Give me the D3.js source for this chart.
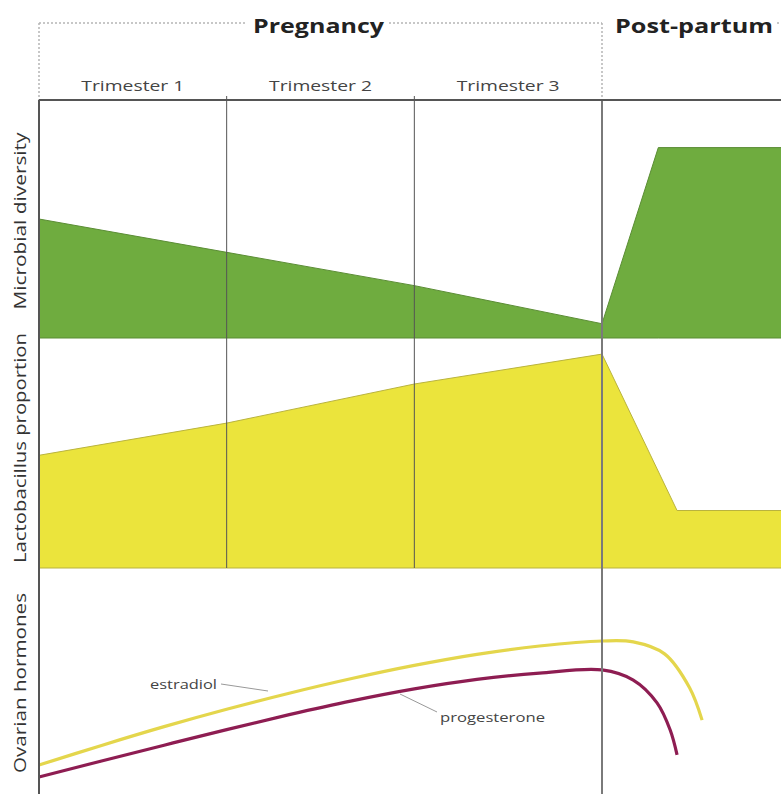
<!DOCTYPE html>
<html>
<head>
<meta charset="utf-8">
<script src="https://cdn.jsdelivr.net/npm/d3@7"></script>
<style>
    body { margin: 0; background: #fff; }
    svg { display: block; font-family: "Open Sans", "DejaVu Sans", sans-serif; }
</style>
</head>
<body>
<div id="chart"></div>
<script>
// months since conception; post-partum continues past month 9
const periods = [{name: "Pregnancy", from: 0, to: 9}, {name: "Post-partum", from: 9, to: 12}];
const trimesters = ["Trimester 1", "Trimester 2", "Trimester 3"];
const trimesterBounds = [0, 3, 6, 9];

const diversityMonths = [0, 3, 6, 9, 9.9, 12];
const diversityValues = [0.50, 0.36, 0.22, 0.06, 0.80, 0.80];

const lactoMonths = [0, 3, 6, 9, 10.2, 12];
const lactoValues = [0.49, 0.63, 0.80, 0.93, 0.25, 0.25];

const estradiolMonths = [0, 1, 2, 3, 4, 5, 6, 7, 8, 9, 9.5, 10, 10.4, 10.6];
const estradiolValues = [0.128, 0.215, 0.298, 0.375, 0.446, 0.511, 0.569, 0.618, 0.655, 0.677, 0.673, 0.62, 0.47, 0.327];

const progesteroneMonths = [0, 1, 2, 3, 4, 5, 6, 7, 8, 9, 9.5, 9.88, 10.09, 10.2];
const progesteroneValues = [0.075, 0.146, 0.216, 0.285, 0.351, 0.412, 0.465, 0.507, 0.535, 0.549, 0.504, 0.403, 0.283, 0.173];

const panelTitles = ["Microbial diversity", "Lactobacillus proportion", "Ovarian hormones"];

const width = 781, height = 794;
const left = 39, headerTop = 23, panelTop = 100;
const panelEdges = [100, 338, 568, 794];

const svg = d3.select("#chart").append("svg")
    .attr("width", width)
    .attr("height", height);

const x = d3.scaleLinear().domain([0, 9]).range([left, 602]);

const yDiv = d3.scaleLinear().domain([0, 1]).range([panelEdges[1], panelEdges[0]]);
const yLac = d3.scaleLinear().domain([0, 1]).range([panelEdges[2], panelEdges[1]]);
const yHor = d3.scaleLinear().domain([0, 1]).range([panelEdges[3], panelEdges[2]]);

svg.append("clipPath").attr("id", "clip")
    .append("rect").attr("x", left).attr("y", 0).attr("width", width - left).attr("height", height);

const zip = (a, b) => a.map((m, i) => [m, b[i]]);

// areas
svg.append("path")
    .datum(zip(diversityMonths, diversityValues))
    .attr("clip-path", "url(#clip)")
    .attr("d", d3.area().x(d => x(d[0])).y0(yDiv(0)).y1(d => yDiv(d[1])))
    .attr("fill", "#6fac3f")
    .attr("stroke", "#5b8d35")
    .attr("stroke-width", 1);

svg.append("path")
    .datum(zip(lactoMonths, lactoValues))
    .attr("clip-path", "url(#clip)")
    .attr("d", d3.area().x(d => x(d[0])).y0(yLac(0)).y1(d => yLac(d[1])))
    .attr("fill", "#ebe43c")
    .attr("stroke", "#b9b33e")
    .attr("stroke-width", 1);

// hormone curves
const hormoneLine = d3.line().x(d => x(d[0])).y(d => yHor(d[1])).curve(d3.curveCatmullRom.alpha(0.5));

svg.append("path")
    .datum(zip(estradiolMonths, estradiolValues))
    .attr("d", hormoneLine)
    .attr("fill", "none")
    .attr("stroke", "#e4d64c")
    .attr("stroke-width", 3.2);

svg.append("path")
    .datum(zip(progesteroneMonths, progesteroneValues))
    .attr("d", hormoneLine)
    .attr("fill", "none")
    .attr("stroke", "#8e1d52")
    .attr("stroke-width", 3.2);

// trimester separators
svg.selectAll(".tri-sep")
    .data(trimesterBounds.slice(1, 3))
    .enter().append("line")
    .attr("class", "tri-sep")
    .attr("x1", d => x(d)).attr("x2", d => x(d))
    .attr("y1", panelTop - 4).attr("y2", panelEdges[2])
    .attr("stroke", "#555")
    .attr("stroke-width", 1);

// birth line
svg.append("line")
    .attr("x1", x(9)).attr("x2", x(9))
    .attr("y1", panelTop).attr("y2", height)
    .attr("stroke", "#7a7a7a")
    .attr("stroke-width", 2);

// header dotted frame
function dline(x1, y1, x2, y2) {
    svg.append("line")
        .attr("x1", x1).attr("y1", y1).attr("x2", x2).attr("y2", y2)
        .attr("stroke", "#b5b5b5")
        .attr("stroke-width", 1.5)
        .attr("stroke-dasharray", "2,2");
}
dline(left, headerTop, 246, headerTop);
dline(389, headerTop, x(9), headerTop);
dline(left, headerTop, left, panelTop);
dline(x(9), headerTop, x(9), panelTop);
dline(777, headerTop, 781, headerTop);

// axes frame
svg.append("line")
    .attr("x1", left).attr("x2", width)
    .attr("y1", panelTop).attr("y2", panelTop)
    .attr("stroke", "#555").attr("stroke-width", 2);

svg.append("line")
    .attr("x1", left).attr("x2", left)
    .attr("y1", panelTop).attr("y2", height)
    .attr("stroke", "#555").attr("stroke-width", 2);

// period titles
svg.append("text")
    .attr("x", x(4.5) - 2).attr("y", 33)
    .attr("text-anchor", "middle")
    .attr("font-size", 20).attr("font-weight", "bold")
    .attr("textLength", 131).attr("lengthAdjust", "spacingAndGlyphs")
    .attr("fill", "#222")
    .text(periods[0].name);

svg.append("text")
    .attr("x", x(9) + 13).attr("y", 33)
    .attr("font-size", 20).attr("font-weight", "bold")
    .attr("textLength", 158).attr("lengthAdjust", "spacingAndGlyphs")
    .attr("fill", "#222")
    .text(periods[1].name);

// trimester labels
svg.selectAll(".tri")
    .data(trimesters)
    .enter().append("text")
    .attr("class", "tri")
    .attr("x", (d, i) => x((trimesterBounds[i] + trimesterBounds[i + 1]) / 2))
    .attr("y", 91)
    .attr("text-anchor", "middle")
    .attr("font-size", 14)
    .attr("textLength", 103).attr("lengthAdjust", "spacingAndGlyphs")
    .attr("fill", "#444")
    .text(d => d);

// panel titles
const titleLengths = [177, 230, 180];
const titleCenters = [221, 448, 683];
svg.selectAll(".ptitle")
    .data(panelTitles)
    .enter().append("text")
    .attr("class", "ptitle")
    .attr("transform", (d, i) => "translate(26," + titleCenters[i] + ") rotate(-90)")
    .attr("text-anchor", "middle")
    .attr("font-size", 16)
    .attr("textLength", (d, i) => titleLengths[i]).attr("lengthAdjust", "spacingAndGlyphs")
    .attr("fill", "#333")
    .text(d => d);

// curve labels
svg.append("line")
    .attr("x1", 221).attr("y1", 684).attr("x2", 268).attr("y2", 691)
    .attr("stroke", "#999").attr("stroke-width", 1);
svg.append("text")
    .attr("x", 217).attr("y", 689)
    .attr("text-anchor", "end")
    .attr("font-size", 13)
    .attr("textLength", 67).attr("lengthAdjust", "spacingAndGlyphs")
    .attr("fill", "#444")
    .text("estradiol");

svg.append("line")
    .attr("x1", 400).attr("y1", 694).attr("x2", 437).attr("y2", 712)
    .attr("stroke", "#999").attr("stroke-width", 1);
svg.append("text")
    .attr("x", 440).attr("y", 722)
    .attr("font-size", 13)
    .attr("textLength", 105).attr("lengthAdjust", "spacingAndGlyphs")
    .attr("fill", "#444")
    .text("progesterone");
</script>
</body>
</html>
